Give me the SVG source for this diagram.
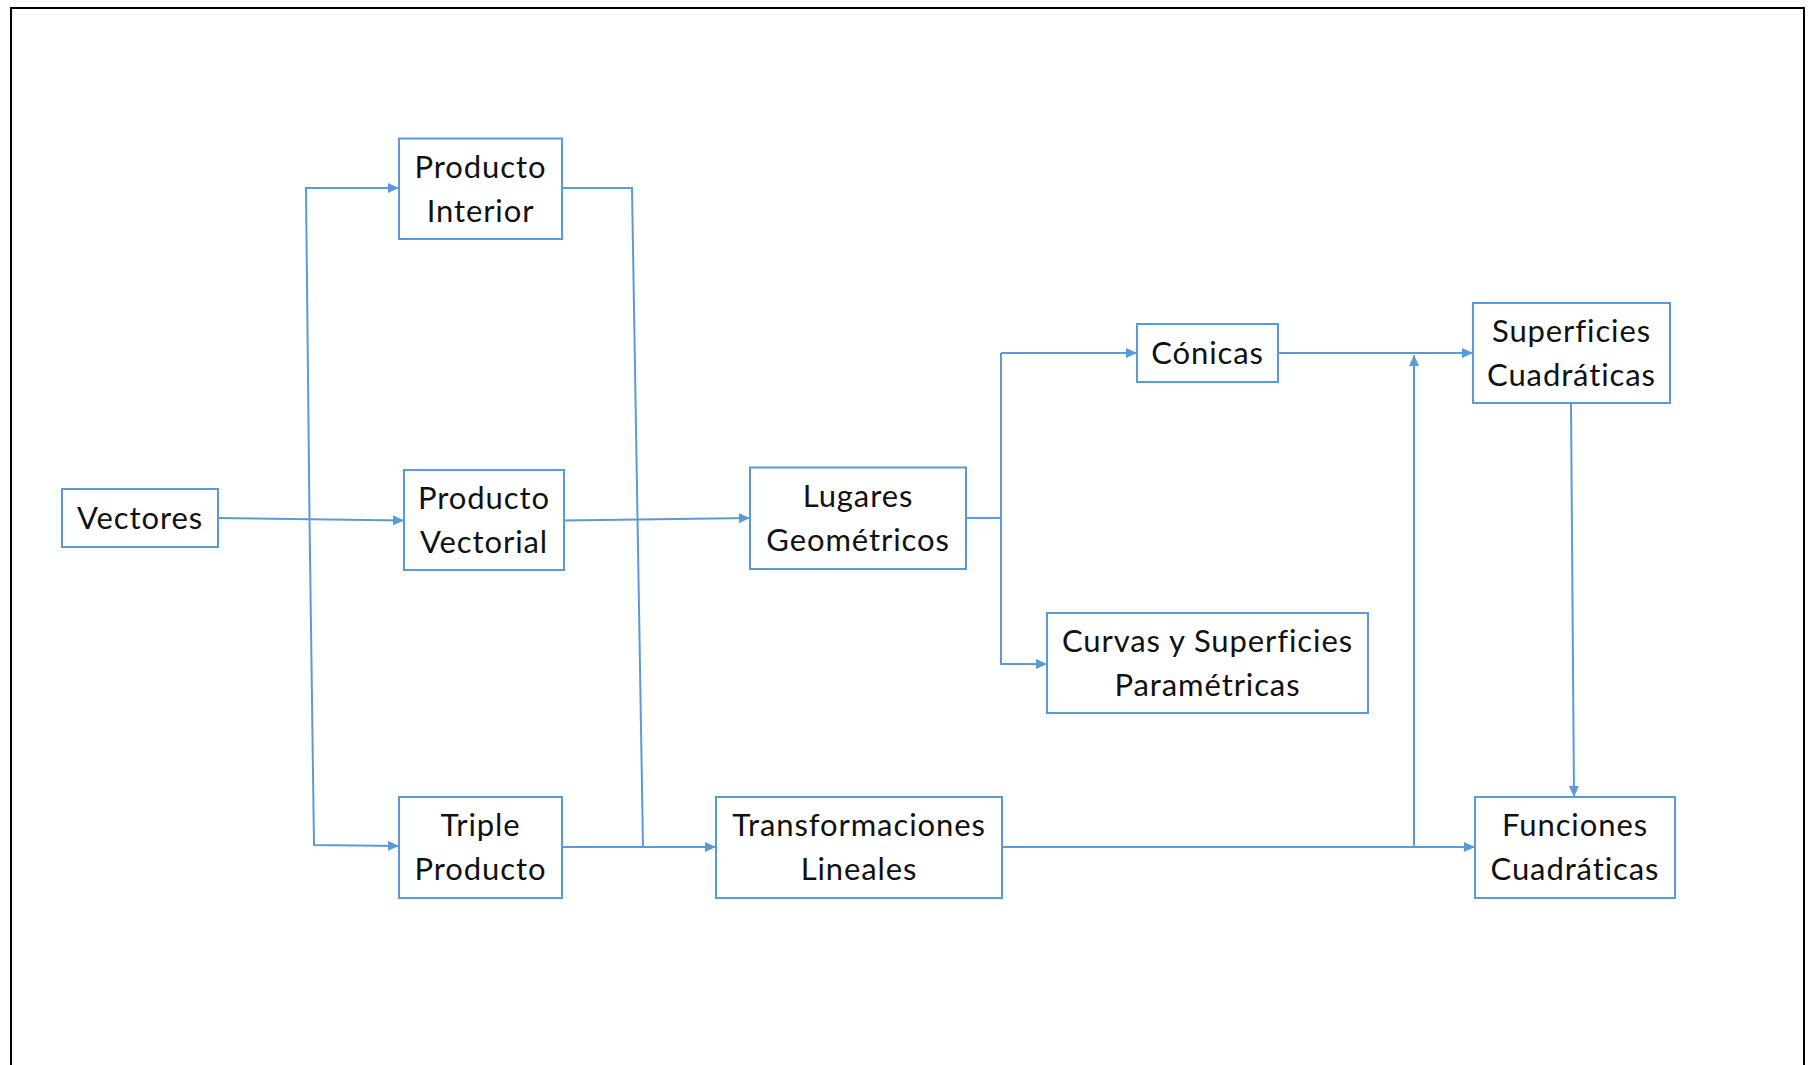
<svg xmlns="http://www.w3.org/2000/svg" width="1810" height="1065" viewBox="0 0 1810 1065">
<defs>
<marker id="arr" markerUnits="userSpaceOnUse" markerWidth="12" markerHeight="10" refX="11" refY="5" orient="auto">
<path d="M0,0 L11,5 L0,10 Z" fill="#5B9BD5"/>
</marker>
<style>
.box{fill:#fff;stroke:#5B9BD5;stroke-width:2}
.t{font-family:Lato,"Liberation Sans",sans-serif;font-size:31px;fill:#111;text-anchor:middle;letter-spacing:0.9px;font-variant-ligatures:none;font-feature-settings:"liga" 0}
.c{fill:none;stroke:#5B9BD5;stroke-width:2}
.a{marker-end:url(#arr)}
</style>
</defs>
<rect width="1810" height="1065" fill="#fff"/>
<path d="M11,1066 V8 H1804 V1066" fill="none" stroke="#000" stroke-width="2"/>
<g id="connectors">
<path class="c a" d="M218,518 L404,520.5"/>
<path class="c a" d="M309.5,518 L306,188 L399,188"/>
<path class="c a" d="M309.5,518 L314,845 L399,846"/>
<path class="c" d="M562,188 L632,188 L643,847"/>
<path class="c a" d="M562,847 L716,847"/>
<path class="c a" d="M564,520.5 L750,518"/>
<path class="c" d="M966,518 L1001,518"/>
<path class="c a" d="M1001,353 L1137,353"/>
<path class="c a" d="M1001,353 L1001,664 L1047,664"/>
<path class="c a" d="M1278,353 L1473,353"/>
<path class="c a" d="M1001,847 L1475,847"/>
<path class="c a" d="M1414,847 L1414,355"/>
<path class="c a" d="M1571,404 L1574,797"/>
</g>
<g id="n-vectores"><rect class="box" x="62" y="489" width="156" height="58"/><text class="t" x="140" y="529">Vectores</text></g>
<g id="n-interior"><rect class="box" x="399" y="138.5" width="163" height="100.5"/><text class="t" x="480.5" y="178">Producto</text><text class="t" x="480.5" y="222">Interior</text></g>
<g id="n-vectorial"><rect class="box" x="404" y="470" width="160" height="100"/><text class="t" x="484" y="509">Producto</text><text class="t" x="484" y="553">Vectorial</text></g>
<g id="n-triple"><rect class="box" x="399" y="797" width="163" height="101"/><text class="t" x="480.5" y="836">Triple</text><text class="t" x="480.5" y="880">Producto</text></g>
<g id="n-lugares"><rect class="box" x="750" y="467.5" width="216" height="101.5"/><text class="t" x="858" y="507">Lugares</text><text class="t" x="858" y="551">Geométricos</text></g>
<g id="n-transf"><rect class="box" x="716" y="797" width="286" height="101"/><text class="t" x="859" y="836">Transformaciones</text><text class="t" x="859" y="880">Lineales</text></g>
<g id="n-conicas"><rect class="box" x="1137" y="324" width="141" height="58"/><text class="t" x="1207.5" y="364">Cónicas</text></g>
<g id="n-curvas"><rect class="box" x="1047" y="613" width="321" height="100"/><text class="t" x="1207.5" y="652">Curvas y Superficies</text><text class="t" x="1207.5" y="696">Paramétricas</text></g>
<g id="n-superficies"><rect class="box" x="1473" y="303" width="197" height="100"/><text class="t" x="1571.5" y="342">Superficies</text><text class="t" x="1571.5" y="386">Cuadráticas</text></g>
<g id="n-funciones"><rect class="box" x="1475" y="797" width="200" height="101"/><text class="t" x="1575" y="836">Funciones</text><text class="t" x="1575" y="880">Cuadráticas</text></g>
</svg>
